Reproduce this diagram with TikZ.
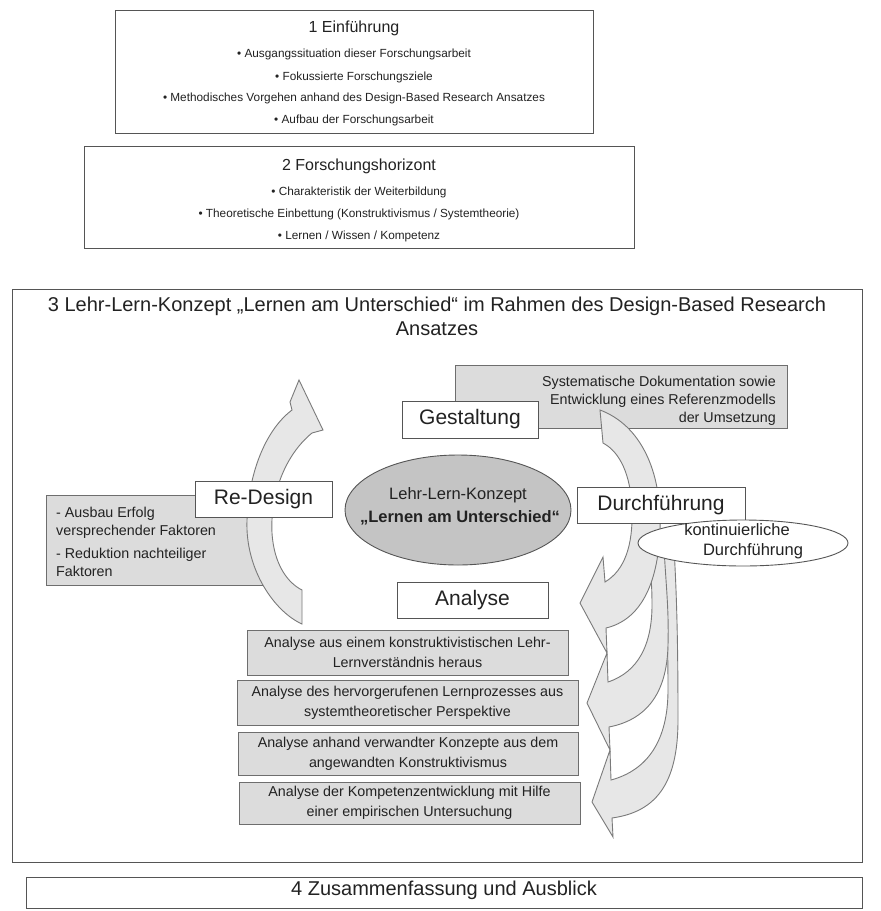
\documentclass[tikz,border=0pt]{standalone}
\usepackage{fontspec}
\setmainfont{Liberation Sans}
\usetikzlibrary{shapes.geometric}

\definecolor{ink}{HTML}{222222}
\definecolor{frame}{HTML}{555555}
\definecolor{panel}{HTML}{DCDCDC}
\definecolor{arrowfill}{HTML}{E7E7E7}
\definecolor{arrowline}{HTML}{7A7A7A}
\definecolor{corefill}{HTML}{C4C4C4}

\begin{document}
\begin{tikzpicture}[x=1pt,y=-1pt,
  every node/.style={text=ink, inner sep=0pt},
  chapterbox/.style={draw=frame, line width=1pt, fill=white, anchor=north west},
  phasebox/.style={draw=frame, line width=0.9pt, fill=white,
    font=\fontsize{21}{24}\selectfont},
  notebox/.style={draw=frame!85, line width=0.8pt, fill=panel, anchor=north west},
  stepbox/.style={draw=frame!85, line width=0.8pt, fill=panel, align=center,
    font=\fontsize{14.3}{20}\selectfont},
  bendarrow/.style={draw=arrowline, line width=0.9pt, fill=arrowfill, line join=miter},
  headline/.style={font=\fontsize{16}{19}\selectfont, anchor=mid},
  bulletline/.style={font=\fontsize{11.8}{14}\selectfont, anchor=mid},
  bigtitle/.style={font=\fontsize{20}{23}\selectfont, anchor=mid},
  notetext/.style={font=\fontsize{14.3}{18}\selectfont}
]
\useasboundingbox (0,0) rectangle (881,911);
\fill[white] (0,0) rectangle (881,911);

% ---------- chapter 1 ----------
\node[chapterbox, minimum width=478, minimum height=123] (ch1) at (115,10) {};
\node[headline] (ch1title) at (354,30) {1 Einführung};
\node[bulletline] (ch1a) at (354,55) {• Ausgangssituation dieser Forschungsarbeit};
\node[bulletline] (ch1b) at (354,78) {• Fokussierte Forschungsziele};
\node[bulletline] (ch1c) at (354,99) {• Methodisches Vorgehen anhand des Design-Based Research Ansatzes};
\node[bulletline] (ch1d) at (354,121) {• Aufbau der Forschungsarbeit};

% ---------- chapter 2 ----------
\node[chapterbox, minimum width=550, minimum height=102] (ch2) at (84,146) {};
\node[headline] (ch2title) at (359,168) {2 Forschungshorizont};
\node[bulletline] (ch2a) at (359,193) {• Charakteristik der Weiterbildung};
\node[bulletline] (ch2b) at (359,215) {• Theoretische Einbettung (Konstruktivismus / Systemtheorie)};
\node[bulletline] (ch2c) at (359,237) {• Lernen / Wissen / Kompetenz};

% ---------- chapter 3 ----------
\node[chapterbox, minimum width=850, minimum height=573] (ch3) at (12,289) {};
\node[bigtitle] (ch3title) at (437,309)
  {3 Lehr-Lern-Konzept „Lernen am Unterschied“ im Rahmen des Design-Based Research};
\node[bigtitle] (ch3title2) at (437,333) {Ansatzes};

% note panels
\node[notebox, minimum width=332, minimum height=63] (docbox) at (455,365) {};
\node[notetext, align=right, anchor=east] (doctext) at (776,401)
  {Systematische Dokumentation sowie\\Entwicklung eines Referenzmodells\\der Umsetzung};
\node[notebox, minimum width=216, minimum height=90] (redbox) at (46,495) {};
\node[notetext, align=left, anchor=west] (redtext) at (56,542)
  {- Ausbau Erfolg\\versprechender Faktoren\\[5pt]- Reduktion nachteiliger\\Faktoren};

% curved arrows of the cycle
\draw[bendarrow] (660,548) -- (674,548)
  .. controls (677,600) and (678,650) .. (678,720)
  .. controls (678,785) and (655,812) .. (612,818)
  -- (613,837) -- (592,802) -- (610,750) -- (611,780)
  .. controls (648,770) and (668,740) .. (668,690)
  .. controls (668,620) and (665,585) .. (660,548) -- cycle;
\draw[bendarrow] (648,548) -- (664,548)
  .. controls (666,585) and (669,610) .. (668,645)
  .. controls (667,695) and (645,720) .. (609,727)
  -- (610,750) -- (587,703) -- (607,653) -- (608,682)
  .. controls (638,672) and (652,645) .. (652,605)
  .. controls (652,580) and (650,565) .. (648,548) -- cycle;
\draw[bendarrow] (603,443) -- (600,410)
  .. controls (640,425) and (662,470) .. (660,530)
  .. controls (658,585) and (640,620) .. (606,628)
  -- (607,653) -- (580,603) -- (603,557) -- (605,582)
  .. controls (625,570) and (633,545) .. (632,510)
  .. controls (631,475) and (620,452) .. (603,443) -- cycle;
\draw[bendarrow] (302,590) -- (302,624)
  .. controls (275,612) and (245,570) .. (247,520)
  .. controls (249,468) and (268,428) .. (292,410)
  -- (290,402) -- (299,380) -- (323,430) -- (312,433)
  .. controls (285,455) and (270,495) .. (272,533)
  .. controls (274,565) and (288,583) .. (302,590) -- cycle;

% phase labels
\node[phasebox, minimum width=136, minimum height=37] (gestaltung) at (470,419.5) {Gestaltung};
\node[phasebox, minimum width=137, minimum height=36] (redesign) at (263.5,499) {Re-Design};
\node[phasebox, minimum width=168, minimum height=36] (durchf) at (661,505) {Durchführung};
\node[phasebox, minimum width=151, minimum height=36] (analyse) at (472.5,600) {Analyse};

% continuous execution
\node[ellipse, draw=frame, line width=0.9pt, fill=white, minimum width=210, minimum height=46] (kont) at (743,543) {};
\node[font=\fontsize{16.5}{19}\selectfont, anchor=mid] (kont1) at (737,533) {kontinuierliche};
\node[font=\fontsize{16.5}{19}\selectfont, anchor=mid] (kont2) at (753,553) {Durchführung};

% core concept
\node[ellipse, draw=frame, line width=0.9pt, fill=corefill, minimum width=226, minimum height=110] (core) at (458,510) {};
\node[font=\fontsize{16.5}{19}\selectfont, anchor=mid] (core1) at (458,497) {Lehr-Lern-Konzept};
\node[font=\bfseries\fontsize{16.5}{19}\selectfont, anchor=mid] (core2) at (460,520) {„Lernen am Unterschied“};

% analysis steps
\node[stepbox, minimum width=321, minimum height=45] (an1) at (407.5,652.5)
  {Analyse aus einem konstruktivistischen Lehr-\\Lernverständnis heraus};
\node[stepbox, minimum width=341, minimum height=45] (an2) at (407.5,702.5)
  {Analyse des hervorgerufenen Lernprozesses aus\\systemtheoretischer Perspektive};
\node[stepbox, minimum width=340, minimum height=43] (an3) at (408,753.5)
  {Analyse anhand verwandter Konzepte aus dem\\angewandten Konstruktivismus};
\node[stepbox, minimum width=341, minimum height=42] (an4) at (409.5,803)
  {Analyse der Kompetenzentwicklung mit Hilfe\\einer empirischen Untersuchung};

% ---------- chapter 4 ----------
\node[chapterbox, minimum width=836, minimum height=31] (ch4) at (26,877) {};
\node[bigtitle] (ch4title) at (444,893) {4 Zusammenfassung und Ausblick};
\end{tikzpicture}
\end{document}
